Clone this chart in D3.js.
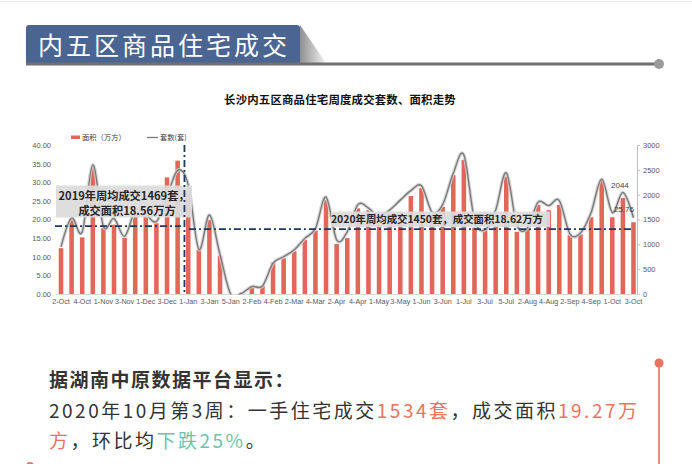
<!DOCTYPE html>
<html><head><meta charset="utf-8">
<script src="https://cdn.jsdelivr.net/npm/d3@7"></script>
<style>
body{margin:0;background:#fff;}
svg{display:block;}
</style></head>
<body>
<svg id="c" width="692" height="464"></svg>
<script>
// ---------- data ----------
const weeks = ["2-Oct","3-Oct","4-Oct","5-Oct","1-Nov","2-Nov","3-Nov","4-Nov","1-Dec","2-Dec","3-Dec","4-Dec",
  "1-Jan","2-Jan","3-Jan","4-Jan","5-Jan","1-Feb","2-Feb","3-Feb","4-Feb","1-Mar","2-Mar","3-Mar","4-Mar",
  "1-Apr","2-Apr","3-Apr","4-Apr","5-Apr","1-May","2-May","3-May","4-May","1-Jun","2-Jun","3-Jun","4-Jun",
  "1-Jul","2-Jul","3-Jul","4-Jul","5-Jul","1-Aug","2-Aug","3-Aug","4-Aug","1-Sep","2-Sep","3-Sep","4-Sep","5-Sep",
  "1-Oct","2-Oct","3-Oct"];
const areaValues = [12.3,20.0,15.2,33.8,17.7,18.6,15.1,21.5,21.0,19.0,31.3,35.8,
  27.0,11.8,19.9,10.3,0,0,2.0,2.2,8.5,9.6,11.5,14.5,17.0,
  25.2,13.4,15.0,23.0,22.5,21.0,21.5,22.0,26.3,28.4,20.0,23.4,31.9,
  36.0,17.8,17.6,18.2,31.5,16.7,17.5,23.9,22.5,23.9,15.8,16.0,20.6,30.8,
  20.6,25.76,19.27];
const countValues = [950,1530,1250,2600,1360,1520,1160,1680,1600,1460,1960,2490,
  2200,900,1590,790,0,10,150,160,620,750,890,1120,1320,
  1950,1090,1250,1800,1730,1560,1690,1890,2080,2180,1650,1800,2430,
  2800,1500,1290,1690,2440,1390,1330,1850,1780,1880,1210,1230,1640,2310,
  1640,2044,1534];
const leftTicks = [0,5,10,15,20,25,30,35,40];
const rightTicks = [0,500,1000,1500,2000,2500,3000];
const avgLevels = [18.2, 17.4];   // drawn level of the 2019 / 2020 average lines (left axis)
const splitIndex = 12;            // first week of 2020
const avgLabels2019 = ["2019年周均成交1469套，","成交面积18.56万方"];
const avgLabel2020 = "2020年周均成交1450套，成交面积18.62万方";
const legendLabels = ["面积（万方）","套数(套)"];
const chartTitle = "长沙内五区商品住宅周度成交套数、面积走势";
const headerTitle = "内五区商品住宅成交";

// ---------- drawing ----------
const svg = d3.select("#c");
const CJK = "'Noto Sans CJK SC','Noto Sans',sans-serif";
const LAT = "'Liberation Sans',Arial,sans-serif";
const red = "#e0675a", navy = "#1f3864";

// top hairline
svg.append("line").attr("x1",0).attr("x2",692).attr("y1",1.5).attr("y2",1.5).attr("stroke","#ececec");

// header
const defs = svg.append("defs");
const g1 = defs.append("linearGradient").attr("id","tri").attr("x1","0").attr("x2","1").attr("y1","0").attr("y2","0");
g1.append("stop").attr("offset","0").attr("stop-color","#8e8e8e");
g1.append("stop").attr("offset","1").attr("stop-color","#f4f4f4");
defs.append("clipPath").attr("id","plot").append("rect").attr("x",50).attr("y",130).attr("width",600).attr("height",164.5);
svg.append("path").attr("d","M26,63 V28 Q26,25 29,25 H297 Q300,25 300,28 V63 Z").attr("fill","#4b6592");
svg.append("path").attr("d","M300,25 L326,63 L300,63 Z").attr("fill","url(#tri)");
svg.append("rect").attr("x",26).attr("y",62.5).attr("width",633).attr("height",3).attr("fill","#707070");
svg.append("circle").attr("cx",659).attr("cy",64).attr("r",5).attr("fill","#9b9b9b");
svg.append("text").attr("x",38).attr("y",55).attr("fill","#fff")
  .attr("font-family",CJK).attr("font-size",25).attr("letter-spacing",3).text(headerTitle);

// chart title
svg.append("text").attr("x",340).attr("y",104).attr("text-anchor","middle")
  .attr("font-family",CJK).attr("font-weight","bold").attr("font-size",11.4).attr("letter-spacing",0.2).attr("fill","#111").text(chartTitle);

// scales
const x = d3.scaleBand().domain(d3.range(weeks.length)).range([55.7,638.8]).paddingInner(0.57).paddingOuter(0.285);
const yL = d3.scaleLinear().domain([0,40]).range([294,145]);
const yR = d3.scaleLinear().domain([0,3000]).range([294,145]);
const cx = i => x(i) + x.bandwidth()/2;

// axes
const axL = svg.append("g").attr("transform","translate(55,0)")
  .call(d3.axisLeft(yL).tickValues(leftTicks).tickFormat(d3.format(".2f")).tickSize(0).tickPadding(4));
axL.select(".domain").remove();
const axR = svg.append("g").attr("transform","translate(637,0)")
  .call(d3.axisRight(yR).tickValues(rightTicks).tickFormat(d3.format("d")).tickSize(3).tickPadding(3));
axR.select(".domain").attr("stroke","#bfbfbf");
axR.selectAll(".tick line").attr("stroke","#bfbfbf");
const axB = svg.append("g").attr("transform","translate(0,294)")
  .call(d3.axisBottom(x).tickValues(d3.range(0,weeks.length,2)).tickFormat(i=>weeks[i]).tickSize(0).tickPadding(5));
axB.select(".domain").attr("stroke","#d9d9d9");
[axL,axR,axB].forEach(a=>a.selectAll("text").attr("font-family",LAT).attr("font-size",7.5).attr("fill","#595959"));
axB.selectAll("text").attr("font-size",7.2);

// bars
svg.append("g").selectAll("rect").data(areaValues).join("rect")
  .attr("x",(d,i)=>x(i)).attr("width",x.bandwidth())
  .attr("y",d=>yL(d)).attr("height",d=>yL(0)-yL(d)).attr("fill",red);

// count line (smoothed)
const lineGen = d3.line().x((d,i)=>cx(i)).y(d=>yR(d)).curve(d3.curveCatmullRom.alpha(0));
const lg = svg.append("g").attr("clip-path","url(#plot)");
lg.append("path").attr("d",lineGen(countValues)).attr("fill","none").attr("stroke","#d0d0d0").attr("stroke-width",3.6).attr("stroke-opacity",0.85);
lg.append("path").attr("d",lineGen(countValues)).attr("fill","none").attr("stroke","#7a7a7a").attr("stroke-width",1.4);

// data labels on last-but-one week
const li = weeks.length-2;
svg.append("text").attr("x",cx(li)-3).attr("y",yR(countValues[li])-4).attr("text-anchor","middle")
  .attr("font-family",LAT).attr("font-size",8).attr("fill","#404040").text(countValues[li]);
svg.append("text").attr("x",cx(li)+1).attr("y",yL(areaValues[li])+14).attr("text-anchor","middle")
  .attr("font-family",LAT).attr("font-size",8).attr("fill","#404040").text(areaValues[li].toFixed(2));

// average boxes
svg.append("rect").attr("x",56).attr("y",185.5).attr("width",136).attr("height",32).attr("fill","#dcdcdc").attr("fill-opacity",0.93);
svg.append("rect").attr("x",331).attr("y",211.5).attr("width",219).attr("height",15.5).attr("fill","#dcdcdc").attr("fill-opacity",0.93);

// average lines
const dash = "7,3,2,3";
svg.append("line").attr("x1",55).attr("x2",x(splitIndex)-5).attr("y1",yL(avgLevels[0])).attr("y2",yL(avgLevels[0]))
  .attr("stroke",navy).attr("stroke-width",1.8).attr("stroke-dasharray",dash);
svg.append("line").attr("x1",x(splitIndex)+3).attr("x2",cx(weeks.length-1)-1).attr("y1",yL(avgLevels[1])).attr("y2",yL(avgLevels[1]))
  .attr("stroke",navy).attr("stroke-width",1.8).attr("stroke-dasharray",dash);
svg.append("line").attr("x1",x(splitIndex)-1.5).attr("x2",x(splitIndex)-1.5).attr("y1",yL(40)).attr("y2",yL(0))
  .attr("stroke",navy).attr("stroke-width",1.8).attr("stroke-dasharray",dash);

// average texts
svg.append("text").attr("x",124).attr("y",200).attr("text-anchor","middle").attr("font-family",CJK).attr("font-weight","bold")
  .attr("font-size",11.2).attr("fill","#262626").text(avgLabels2019[0]);
svg.append("text").attr("x",127).attr("y",215).attr("text-anchor","middle").attr("font-family",CJK).attr("font-weight","bold")
  .attr("font-size",11.2).attr("fill","#262626").text(avgLabels2019[1]);
svg.append("text").attr("x",437).attr("y",223.3).attr("text-anchor","middle").attr("font-family",CJK).attr("font-weight","bold")
  .attr("font-size",10.4).attr("fill","#262626").text(avgLabel2020);

// legend
svg.append("rect").attr("x",71).attr("y",135.5).attr("width",9).attr("height",3.5).attr("fill",red);
svg.append("text").attr("x",82).attr("y",140).attr("font-family",CJK).attr("font-size",7.3).attr("fill","#404040").text(legendLabels[0]);
svg.append("line").attr("x1",147).attr("x2",158).attr("y1",137.5).attr("y2",137.5).attr("stroke","#7a7a7a").attr("stroke-width",1.3);
svg.append("text").attr("x",160).attr("y",140).attr("font-family",CJK).attr("font-size",7.3).attr("fill","#404040").text(legendLabels[1]);

// bottom commentary
const salmon = "#e8735f", teal = "#6cc3a8", dark = "#333";
svg.append("line").attr("x1",659).attr("x2",659).attr("y1",363).attr("y2",464).attr("stroke",salmon).attr("stroke-width",1.6);
svg.append("circle").attr("cx",659).attr("cy",363).attr("r",4.5).attr("fill",salmon);
svg.append("circle").attr("cx",30).attr("cy",466).attr("r",4).attr("fill",salmon);
const T = (y, weight, ls) => svg.append("text").attr("x",49).attr("y",y).attr("font-family",CJK)
  .attr("font-size",19).attr("letter-spacing",ls).attr("font-weight",weight||"normal").attr("fill",dark);
T(387,"bold",1.5).text("据湖南中原数据平台显示：");
const t2 = T(418,"normal",2.5);
[["2020年10月第3周：一手住宅成交",dark],["1534套",salmon],["，成交面积",dark],["19.27万",salmon]]
  .forEach(([s,c])=>t2.append("tspan").attr("fill",c).text(s));
const t3 = T(448,"normal",2.5);
[["方",salmon],["，环比均",dark],["下跌25%",teal],["。",dark]]
  .forEach(([s,c])=>t3.append("tspan").attr("fill",c).text(s));
</script>
</body></html>
